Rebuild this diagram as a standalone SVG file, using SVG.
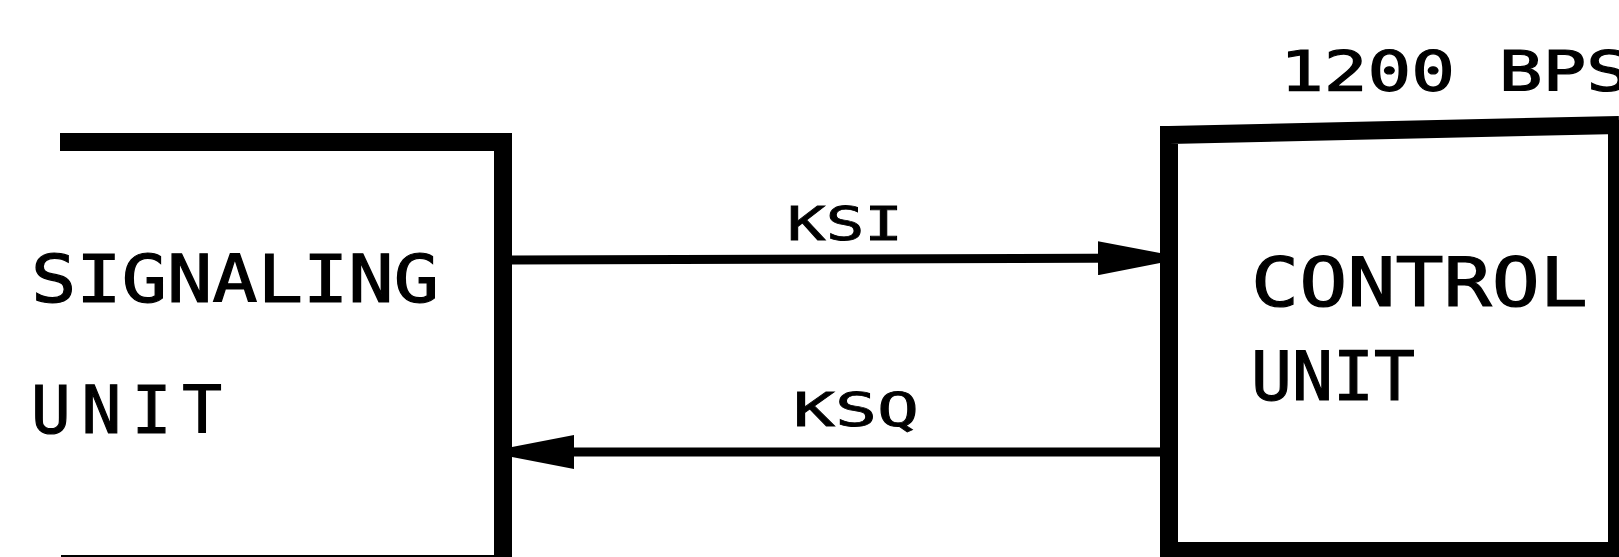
<svg xmlns="http://www.w3.org/2000/svg" width="1619" height="557" viewBox="0 0 1619 557">
<style>
.box{fill:none;stroke:#000;stroke-width:18;stroke-linejoin:miter;stroke-linecap:butt}
.wire{stroke:#000;stroke-width:9;fill:none}
.lbl{font-family:"DejaVu Sans Mono","Liberation Mono",monospace;fill:#000;stroke:#000;stroke-width:1.2}
.sm{stroke-width:0.8}
</style>
<defs>
<marker id="arr" viewBox="0 0 62 34" refX="62" refY="17" markerWidth="62" markerHeight="34" markerUnits="userSpaceOnUse" orient="auto">
<path d="M0,0 L62,12 L62,22 L0,34 Z" fill="#000"/>
</marker>
</defs>
<rect width="1619" height="557" fill="#fff"/>
<g id="signaling-unit">
<path class="box" d="M60,142 L503,142 L503,562"/>
<path d="M61,557 L503,557" stroke="#000" stroke-width="4"/>
<text class="lbl" x="31" y="302" font-size="66" textLength="408" lengthAdjust="spacingAndGlyphs">SIGNALING</text>
<text class="lbl" x="31" y="433" font-size="66" textLength="191" lengthAdjust="spacing">UNIT</text>
</g>
<g id="control-unit">
<path class="box" d="M1169,135 L1619,125 M1169,126 L1169,551 L1625,551 M1617,120 L1617,560"/>
<text class="lbl" x="1251" y="306" font-size="68" textLength="337" lengthAdjust="spacingAndGlyphs">CONTROL</text>
<text class="lbl" x="1251" y="400" font-size="68" textLength="164" lengthAdjust="spacing">UNIT</text>
<text class="lbl" x="1280" y="90" font-size="56" textLength="350" lengthAdjust="spacingAndGlyphs">1200 BPS</text>
</g>
<g id="connectors">
<path class="wire" d="M512,260 L1160,258" marker-end="url(#arr)"/>
<path class="wire" d="M1160,452 L512,452" marker-end="url(#arr)"/>
<text class="lbl sm" x="787" y="240" font-size="47" textLength="116" lengthAdjust="spacingAndGlyphs">KSI</text>
<text class="lbl sm" x="793" y="426" font-size="47" textLength="126" lengthAdjust="spacingAndGlyphs">KSQ</text>
</g>
</svg>
